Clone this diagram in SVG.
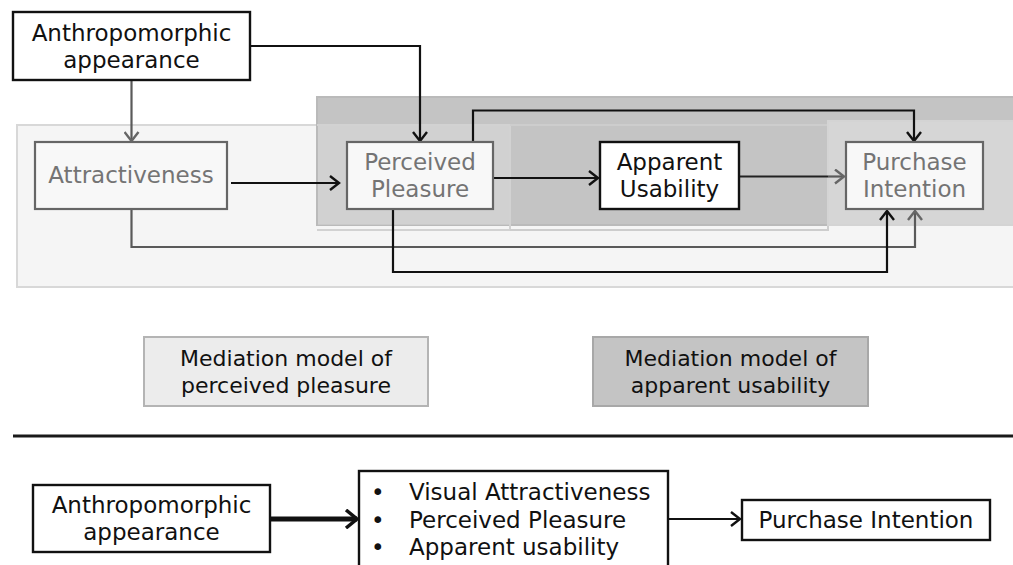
<svg xmlns="http://www.w3.org/2000/svg" width="1013" height="565" viewBox="0 0 1013 565">
  <defs>
    <marker id="arrBlack" markerUnits="userSpaceOnUse" markerWidth="14" markerHeight="16" refX="11" refY="8" orient="auto">
      <path d="M2,1 L11,8 L2,15" fill="none" stroke="#111" stroke-width="2.4"/>
    </marker>
    <marker id="arrGray" markerUnits="userSpaceOnUse" markerWidth="14" markerHeight="16" refX="11" refY="8" orient="auto">
      <path d="M2,1 L11,8 L2,15" fill="none" stroke="#666" stroke-width="2.4"/>
    </marker>
    <marker id="arrThick" markerUnits="userSpaceOnUse" markerWidth="16" markerHeight="20" refX="13" refY="10" orient="auto">
      <path d="M2,1 L13,10 L2,19" fill="none" stroke="#111" stroke-width="3.5"/>
    </marker>
  </defs>
  <style>
    text { font-family: "DejaVu Sans", Verdana, sans-serif; font-size: 23px; text-anchor: middle; }
    .dim { fill: #747474; }
    .ink { fill: #111; }
    .legend { font-size: 22px; fill: #111; }
    .box { fill: #f8f8f8; stroke: #666; stroke-width: 2.2; }
    .solid { fill: #fff; stroke: #111; stroke-width: 2.4; }
    .conn { fill: none; stroke: #111; stroke-width: 2.2; }
    .connGray { fill: none; stroke: #5a5a5a; stroke-width: 2.2; }
  </style>
  <rect width="1013" height="565" fill="#fff"/>

  <!-- model panels -->
  <g id="panels">
    <rect x="17" y="125" width="1000" height="162" fill="#f5f5f5" stroke="#d8d8d8" stroke-width="2"/>
    <rect x="317" y="97" width="700" height="128" fill="#c4c4c4" stroke="#bababa" stroke-width="2"/>
    <!-- light band over the left part of the dark panel -->
    <rect x="318" y="125" width="192" height="100" fill="#fff" fill-opacity="0.22"/>
    <path d="M317,125 H510 V230 H317" fill="none" stroke="#d2d2d2" stroke-width="2"/>
    <path d="M510,125 H828 M510,230 H828 V225" fill="none" stroke="#cdcdcd" stroke-width="2"/>
    <rect x="828" y="121" width="190" height="104" fill="#fff" fill-opacity="0.3" stroke="#d4d4d4" stroke-width="2"/>
  </g>

  <!-- connectors -->
  <g id="connectors">
    <path class="connGray" d="M131.5,80 V141" marker-end="url(#arrGray)"/>
    <path class="conn" d="M250,46 H420 V141" marker-end="url(#arrBlack)"/>
    <path class="conn" d="M231,183 H339" marker-end="url(#arrBlack)"/>
    <path class="conn" d="M493,178 H598" marker-end="url(#arrBlack)"/>
    <path class="conn" d="M473,142 V110.5 H914 V141" marker-end="url(#arrBlack)"/>
    <path d="M739,176.5 H828" fill="none" stroke="#222" stroke-width="2.2"/>
    <path class="connGray" d="M828,176.5 H844" stroke="#707070" marker-end="url(#arrGray)"/>
    <path class="connGray" d="M131.5,209 V247 H915 V211" marker-end="url(#arrGray)"/>
    <path class="conn" d="M393,209 V272 H887 V211" marker-end="url(#arrBlack)"/>
    <path d="M270,519 H357" fill="none" stroke="#111" stroke-width="5" marker-end="url(#arrThick)"/>
    <path class="conn" d="M668,519 H740" marker-end="url(#arrBlack)"/>
  </g>

  <g id="anthro-top">
    <rect class="solid" x="13" y="12" width="237" height="68"/>
    <text class="ink" x="131.5" y="41">Anthropomorphic</text>
    <text class="ink" x="131.5" y="68">appearance</text>
  </g>

  <g id="attractiveness">
    <rect class="box" x="35" y="142" width="192" height="67"/>
    <text class="dim" x="131" y="183">Attractiveness</text>
  </g>

  <g id="perceived-pleasure">
    <rect class="box" x="347" y="142" width="146" height="67"/>
    <text class="dim" x="420" y="170">Perceived</text>
    <text class="dim" x="420" y="197">Pleasure</text>
  </g>

  <g id="apparent-usability">
    <rect class="solid" x="600" y="142" width="139" height="67"/>
    <text class="ink" x="669.5" y="170">Apparent</text>
    <text class="ink" x="669.5" y="197">Usability</text>
  </g>

  <g id="purchase-intention">
    <rect class="box" x="846" y="142" width="137" height="67"/>
    <text class="dim" x="914.5" y="170">Purchase</text>
    <text class="dim" x="914.5" y="197">Intention</text>
  </g>

  <g id="legend-pleasure">
    <rect x="144" y="337" width="284" height="69" fill="#ececec" stroke="#b4b4b4" stroke-width="2"/>
    <text class="legend" x="286" y="366">Mediation model of</text>
    <text class="legend" x="286" y="393">perceived pleasure</text>
  </g>

  <g id="legend-usability">
    <rect x="593" y="337" width="275" height="69" fill="#c4c4c4" stroke="#a8a8a8" stroke-width="2"/>
    <text class="legend" x="730.5" y="366">Mediation model of</text>
    <text class="legend" x="730.5" y="393">apparent usability</text>
  </g>

  <g id="divider">
    <line x1="13" y1="436" x2="1013" y2="436" stroke="#1a1a1a" stroke-width="3"/>
  </g>

  <g id="anthro-bottom">
    <rect class="solid" x="33" y="485" width="237" height="67"/>
    <text class="ink" x="151.5" y="513">Anthropomorphic</text>
    <text class="ink" x="151.5" y="540">appearance</text>
  </g>

  <g id="mediators">
    <rect class="solid" x="359" y="471" width="309" height="110"/>
    <g class="ink">
      <text x="371" y="500" style="text-anchor:start">•</text>
      <text x="371" y="528" style="text-anchor:start">•</text>
      <text x="371" y="555" style="text-anchor:start">•</text>
      <text x="409" y="500" style="text-anchor:start">Visual Attractiveness</text>
      <text x="409" y="528" style="text-anchor:start">Perceived Pleasure</text>
      <text x="409" y="555" style="text-anchor:start">Apparent usability</text>
    </g>
  </g>

  <g id="purchase-bottom">
    <rect class="solid" x="742" y="500" width="248" height="40"/>
    <text class="ink" x="866" y="528">Purchase Intention</text>
  </g>
</svg>
